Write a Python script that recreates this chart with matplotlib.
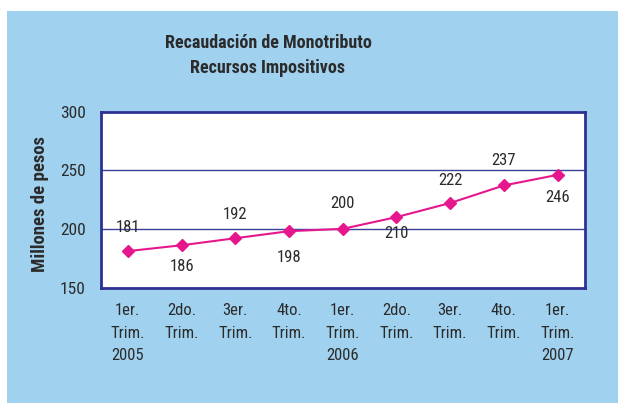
import matplotlib.pyplot as plt
from matplotlib.patches import Rectangle
from matplotlib import font_manager

periods = ['1er.\nTrim.\n2005', '2do.\nTrim.', '3er.\nTrim.', '4to.\nTrim.',
           '1er.\nTrim.\n2006', '2do.\nTrim.', '3er.\nTrim.', '4to.\nTrim.',
           '1er.\nTrim.\n2007']
values = [181, 186, 192, 198, 200, 210, 222, 237, 246]
# label offsets (points): positive = above the marker
label_offsets = [17, -15, 17, -19, 18, -12, 16, 18, -16]

names = {f.name for f in font_manager.fontManager.ttflist}
narrow = 'Liberation Sans'
for cand in ['Liberation Sans Narrow', 'Arial Narrow', 'Roboto Condensed', 'Archivo Narrow', 'PT Sans Narrow']:
    if cand in names:
        narrow = cand
        break
plt.rcParams['font.family'] = [narrow, 'DejaVu Sans']

W, H = 618, 403
fig = plt.figure(figsize=(W / 100, H / 100), dpi=100)
fig.patch.set_facecolor('white')
bg = fig.add_axes([0, 0, 1, 1], zorder=-1)
bg.set_axis_off()
bg.set_xlim(0, W)
bg.set_ylim(H, 0)
bg.add_patch(Rectangle((7, 11), W - 7, H - 11, facecolor='#A0D2F0', edgecolor='none'))

navy = '#2E3192'
txt = '#2b2b2b'
ax = fig.add_axes([101 / W, 1 - 287.5 / H, (584.5 - 101) / W, (287.5 - 111.5) / H])
ax.set_facecolor('white')
x = list(range(len(values)))
ax.plot(x, values, color='#E6178C', linewidth=1.5, marker='D', markersize=6.5,
        markerfacecolor='#E6178C', markeredgecolor='#E6178C', zorder=3, clip_on=False)
for xi, v, off in zip(x, values, label_offsets):
    ax.annotate(str(v), (xi, v), xytext=(0, off), textcoords='offset points',
                ha='center', va='center', fontsize=12, color=txt)

ax.set_xlim(-0.5, len(values) - 0.5)
ax.set_ylim(150, 300)
ax.set_yticks([150, 200, 250, 300])
for yv in [200, 250]:
    ax.axhline(yv, color='#3A3F99', linewidth=1.0, zorder=1)
for s in ax.spines.values():
    s.set_color(navy)
    s.set_linewidth(2)
ax.set_xticks(x)
ax.set_xticklabels(periods, fontsize=12, color=txt, linespacing=1.65, va='top')
ax.tick_params(axis='x', length=0, pad=11)
ax.tick_params(axis='y', length=0, pad=11, labelsize=12.5, labelcolor=txt)
ax.set_ylabel('Millones de pesos', fontsize=13.5, fontweight='bold', color=txt)
ax.yaxis.set_label_coords(-0.108, 0.474)

fig.text(268 / W, 1 - 43 / H, 'Recaudación de Monotributo', ha='center', va='center',
         fontsize=13, fontweight='bold', color=txt)
fig.text(268 / W, 1 - 68 / H, 'Recursos Impositivos', ha='center', va='center',
         fontsize=13, fontweight='bold', color=txt)

fig.savefig('out.png', dpi=100, facecolor=fig.get_facecolor())
